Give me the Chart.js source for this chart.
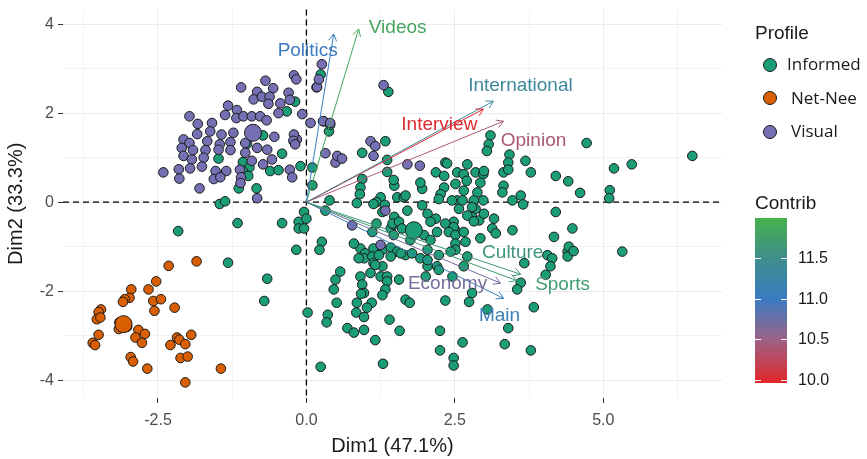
<!DOCTYPE html>
<html>
<head>
<meta charset="utf-8">
<script src="https://cdn.jsdelivr.net/npm/chart.js@4.4.1/dist/chart.umd.min.js"></script>
<style>
  html, body { margin: 0; padding: 0; background: #fff; }
  #wrap { position: relative; width: 867px; height: 459px; overflow: hidden; }
  #chart { position: absolute; left: 0; top: 0; }
  .lg-title { position: absolute; left: 755px; font: 19px "Liberation Sans", Arial, sans-serif; color: #1a1a1a; line-height: 22px; }
  .lg-key { position: absolute; width: 12px; height: 12px; border-radius: 50%; border: 1.5px solid #1a1a1a; }
  .lg-text { position: absolute; font: 17px "Open Sans", sans-serif; color: #1a1a1a; line-height: 20px; white-space: nowrap; }
  .bar-tick { position: absolute; height: 1px; width: 6px; background: #fff; }
  .bar-label { position: absolute; left: 798px; font: 16px "Liberation Sans", Arial, sans-serif; color: #1a1a1a; line-height: 18px; }
</style>
</head>
<body>
<div id="wrap">
  <canvas id="chart" width="867" height="459"></canvas>
  <div id="legend"></div>
</div>
<script>
// ---------------- DATA ----------------
const GROUPS = ['Informed', 'Net-Nee', 'Visual'];

const informedX = [
  -2.16,-1.16,-0.41,-1.32,-0.66,-0.71,-1.46,-1.37,-0.17,-0.13,
  -0.13,0.24,-0.19,-0.33,-0.73,-1.00,-1.48,-0.41,-1.07,-0.96,
  -1.07,-0.98,-0.61,-0.47,-0.10,0.10,0.10,-1.14,-0.84,0.38,
  0.40,0.39,1.38,1.33,0.94,1.36,1.36,0.94,0.91,0.90,
  1.48,0.85,1.25,1.18,1.32,1.28,1.53,1.64,1.70,1.95,
  2.04,2.18,1.48,1.18,1.11,1.42,1.47,-0.04,0.00,-0.04,
  0.26,0.22,2.34,2.18,2.32,2.32,2.26,2.51,2.54,2.57,
  2.48,2.43,2.34,2.54,1.98,1.75,2.20,2.09,0.91,0.99,
  1.13,1.28,1.42,1.53,1.67,2.23,2.54,2.65,2.70,2.65,
  2.85,2.98,2.93,2.88,2.98,2.45,2.63,2.82,2.85,2.79,
  2.71,2.91,2.99,3.32,3.32,3.30,3.47,3.61,3.65,3.78,
  4.20,4.41,3.16,3.13,3.19,3.47,2.93,4.20,4.17,2.48,
  2.40,2.51,2.65,2.51,2.68,2.71,2.65,2.46,2.51,2.43,
  3.67,4.06,4.14,4.11,4.03,3.61,4.40,4.42,1.45,1.56,
  1.61,1.47,0.80,0.97,1.11,1.22,1.13,1.28,1.42,1.59,
  1.78,1.92,2.04,2.20,2.23,0.57,0.49,0.46,0.91,0.94,
  0.97,1.08,1.25,1.36,1.56,0.51,0.36,0.34,0.02,0.24,
  0.88,0.92,0.85,0.84,0.97,1.10,1.02,0.69,0.80,0.97,
  1.16,1.36,1.33,1.28,1.67,1.74,1.40,1.57,1.16,1.29,
  2.01,2.23,2.34,2.25,2.25,2.48,2.48,2.79,2.74,4.40,
  3.55,3.83,3.05,3.40,3.34,3.78,2.63,5.32,3.10,3.07,
  3.04,4.72,6.50,5.18,5.48,5.11,5.10,3.42,3.40,3.40,
  3.69,4.61,2.71,2.99,2.79,2.82,4.48,2.37,1.47,1.95,
  1.92,1.67,2.09,2.04,2.04,4.50,0.32,1.13
];
const informedY = [
  -0.65,-0.47,-0.47,-1.36,-1.72,-2.22,-0.04,0.02,-1.07,-0.44,
  -0.59,2.87,2.26,2.04,1.50,1.31,0.98,1.09,0.90,0.78,
  0.70,0.59,0.70,0.72,0.81,0.78,0.38,0.31,0.31,1.59,
  1.74,0.04,2.48,1.37,1.11,0.95,0.68,0.52,0.33,0.18,
  0.37,-0.02,0.11,0.00,-0.06,-0.22,0.11,0.11,-0.19,-0.07,
  -0.26,-0.37,-0.33,-0.48,-0.67,-0.59,-0.50,-0.22,-0.37,-0.59,
  -0.89,-1.07,0.89,0.67,0.59,0.33,0.18,0.41,0.04,-0.15,
  -0.44,-0.59,-0.48,-0.67,-0.74,-0.85,-0.67,-0.85,-1.04,-1.15,
  -1.04,-1.07,-1.02,-1.11,-1.19,0.07,0.67,0.63,0.48,0.26,
  0.67,0.63,0.44,0.22,0.04,0.04,0.04,0.04,-0.15,-0.33,
  -0.30,-0.41,-0.26,0.67,0.37,0.22,0.04,0.15,-0.05,0.67,
  0.59,0.47,-0.37,-0.59,-0.70,-0.63,-0.81,-0.22,-0.78,-0.56,
  -0.67,-0.74,-0.67,-0.93,-0.89,-1.22,-1.44,-1.67,-1.07,-1.11,
  -1.37,-1.19,-1.26,-1.44,-1.63,-1.81,-1.11,-1.00,-0.48,-0.44,
  -0.59,-0.74,-0.93,-1.26,-1.22,-1.19,-1.37,-1.44,-1.22,-1.15,
  -1.15,-1.26,-1.44,-1.44,-1.19,-1.56,-1.74,-1.96,-1.67,-1.85,
  -2.04,-1.59,-1.67,-1.67,-1.74,-2.26,-2.53,-2.70,-2.48,-3.70,
  -1.26,-2.06,-2.26,-2.48,-2.58,-2.26,-2.37,-2.83,-2.93,-2.87,
  -1.41,-1.78,-1.96,-2.09,-2.19,-2.26,-2.64,-2.89,-3.10,-3.63,
  -1.67,-1.52,-2.21,-2.89,-3.33,-3.50,-3.67,-2.04,-2.24,-1.22,
  -1.96,-2.36,-2.41,-2.83,-3.19,-3.33,-3.15,-1.11,1.50,1.30,
  1.15,1.33,1.04,0.76,0.85,0.27,0.09,1.07,0.89,0.73,
  0.93,0.21,0.85,0.70,-0.11,-0.43,-0.59,0.87,0.50,0.30,
  0.44,0.15,-0.44,-1.07,-1.30,-1.10,-0.19,-0.04
];

const netNeeX = [
  -2.32,-1.85,-2.53,-2.66,-2.95,-2.98,-3.06,-3.09,-2.58,-2.45,
  -2.56,-2.22,-3.46,-3.50,-3.53,-3.47,-3.16,-2.83,-2.72,-2.88,
  -2.77,-3.50,-3.60,-3.56,-2.18,-2.14,-1.94,-2.04,-2.29,-2.96,
  -2.92,-2.68,-2.12,-2.00,-1.44,-2.04,-3.15,-3.02
];
const netNeeY = [
  -1.43,-1.33,-1.78,-1.96,-1.96,-2.15,-2.18,-2.24,-2.22,-2.18,
  -2.44,-2.37,-2.41,-2.47,-2.63,-2.59,-2.85,-2.87,-2.96,-3.04,
  -3.16,-2.98,-3.16,-3.21,-3.04,-3.09,-2.98,-3.19,-3.21,-3.48,
  -3.58,-3.74,-3.50,-3.47,-3.74,-4.05,-2.70,-2.80
];

const visualX = [
  -1.10,-0.69,-0.56,-0.83,-0.89,-0.75,-0.62,-0.64,-0.44,-0.30,
  -0.28,-0.21,-0.17,0.17,0.26,-1.32,-1.37,-1.17,-1.18,-1.06,
  -0.92,-0.78,-0.67,-0.47,-0.07,-1.97,-1.83,-1.59,-1.84,-1.62,
  -1.43,-1.23,-0.54,0.07,0.29,-2.07,-1.97,-1.67,-1.46,-1.28,
  -1.03,-0.16,-0.21,-2.10,-1.91,-1.70,-1.48,-1.28,-0.83,-0.66,
  -2.07,-1.93,-1.73,-1.03,-0.58,0.32,0.49,-2.15,-1.96,-1.76,
  -1.53,-1.35,-0.92,-0.73,-2.41,-2.14,-1.56,-1.45,-1.12,-1.10,
  -0.28,-0.24,-1.80,-1.11,-0.83,0.18,0.21,1.30,0.28,0.40,
  0.52,0.60,1.08,1.16,1.13,1.70,1.91,0.77,1.33,1.25,
  -0.22,-0.19
];
const visualY = [
  2.58,2.73,2.56,2.48,2.31,2.37,2.37,2.21,2.22,2.46,
  2.30,2.85,2.76,2.58,3.10,2.17,1.96,2.07,1.89,1.93,
  1.93,1.93,1.84,2.00,1.98,1.93,1.76,1.78,1.53,1.59,
  1.52,1.56,1.47,1.78,1.82,1.41,1.33,1.37,1.30,1.35,
  1.33,1.41,1.52,1.22,1.17,1.17,1.18,1.17,1.22,1.18,
  1.04,0.96,1.00,1.11,0.96,1.10,0.89,0.74,0.76,0.80,
  0.70,0.70,0.93,0.85,0.67,0.53,0.52,0.56,0.73,0.56,
  0.73,0.56,0.31,0.43,0.09,2.59,2.76,2.63,1.82,1.78,
  1.04,0.98,1.37,1.26,1.04,0.85,0.82,-0.52,-0.19,-0.96,
  1.38,1.30
];

// group mean points (Informed, Net-Nee, Visual)
const centroidX = [1.81, -3.08, -0.90];
const centroidY = [-0.63, -2.74, 1.56];

// variables (arrows)
const varNames = ['Politics', 'Videos', 'International', 'Interview', 'Opinion', 'Culture', 'Sports', 'Economy', 'Main'];
const varX = [0.46, 0.88, 3.15, 2.98, 3.32, 3.61, 3.54, 3.27, 3.32];
const varY = [3.78, 3.89, 2.27, 2.09, 1.82, -1.62, -1.76, -1.82, -2.16];
const varContrib = [11.0, 11.85, 11.35, 10.0, 10.4, 11.6, 11.7, 10.7, 11.1];

// axes
const xTicks = [-2.5, 0, 2.5, 5];
const yTicks = [-4, -2, 0, 2, 4];
const contribTicks = [10.0, 10.5, 11.0, 11.5];

// ---------------- STYLE ----------------
const GROUP_COLORS = ['#1b9e77', '#d95f02', '#7570b3'];
const CONTRIB_MIN = 9.96, CONTRIB_MAX = 12.0;
const GRAD_STOPS = [
  [9.96, '#e3262a'], [10.5, '#9b6386'], [11.0, '#3a7bc2'], [11.5, '#3f8e8c'], [12.0, '#47b14a']
];
// label offset from arrow tip, px
const LABEL_OFFSET = {
  Politics: [-26, 17], Videos: [39, -1], International: [27, -15], Interview: [-44, 16],
  Opinion: [30, 20], Culture: [-8, -22], Sports: [46, 4], Economy: [-53, 1], Main: [-4, 17]
};
const FONT = '"Liberation Sans", Arial, sans-serif';

function hexToRgb(h) {
  const n = parseInt(h.slice(1), 16);
  return [(n >> 16) & 255, (n >> 8) & 255, n & 255];
}
function contribColor(v) {
  for (let i = 0; i < GRAD_STOPS.length - 1; i++) {
    const [v0, c0] = GRAD_STOPS[i];
    const [v1, c1] = GRAD_STOPS[i + 1];
    if (v <= v1 || i === GRAD_STOPS.length - 2) {
      const t = Math.max(0, Math.min(1, (v - v0) / (v1 - v0)));
      const a = hexToRgb(c0), b = hexToRgb(c1);
      const m = a.map((c, k) => Math.round(c + (b[k] - c) * t));
      return `rgb(${m[0]},${m[1]},${m[2]})`;
    }
  }
}

const toPoints = (xs, ys) => xs.map((x, i) => ({ x, y: ys[i] }));
// major ticks plus the minor lines half way between them
const halfSteps = (ticks) => {
  const step = ticks[1] - ticks[0];
  const out = [];
  ticks.forEach(t => out.push(t - step / 2, t));
  out.push(ticks[ticks.length - 1] + step / 2);
  return out;
};

// ---------------- DATASETS ----------------
const pointSets = [
  [informedX, informedY], [netNeeX, netNeeY], [visualX, visualY]
].map(([xs, ys], g) => ({
  label: GROUPS[g],
  data: toPoints(xs, ys),
  backgroundColor: GROUP_COLORS[g],
  borderColor: '#1a1a1a',
  borderWidth: 1,
  pointRadius: 4.8,
  order: 3 - g
}));

const centroidSet = {
  label: 'centroids',
  data: toPoints(centroidX, centroidY),
  backgroundColor: GROUP_COLORS,
  borderColor: '#1a1a1a',
  borderWidth: 1,
  pointRadius: 8.5,
  order: 1
};

const arrowSets = varNames.map((name, i) => ({
  label: name,
  data: [{ x: 0, y: 0 }, { x: varX[i], y: varY[i] }],
  showLine: true,
  borderColor: contribColor(varContrib[i]),
  borderWidth: 1,
  pointRadius: 0,
  order: 0
}));

// ---------------- PLUGIN ----------------
const biplotLayer = {
  id: 'biplotLayer',
  beforeDatasetsDraw(chart) {
    const { ctx, chartArea: a, scales: { x, y } } = chart;
    const x0 = x.getPixelForValue(0), y0 = y.getPixelForValue(0);
    ctx.save();
    ctx.strokeStyle = '#000';
    ctx.lineWidth = 1.3;
    ctx.setLineDash([6, 4]);
    ctx.beginPath();
    ctx.moveTo(a.left, y0); ctx.lineTo(a.right, y0);
    ctx.moveTo(x0, a.top); ctx.lineTo(x0, a.bottom);
    ctx.stroke();
    ctx.restore();
  },
  afterDatasetsDraw(chart) {
    const { ctx, scales: { x, y } } = chart;
    const ox = x.getPixelForValue(0), oy = y.getPixelForValue(0);
    ctx.save();
    varNames.forEach((name, i) => {
      const px = x.getPixelForValue(varX[i]), py = y.getPixelForValue(varY[i]);
      const col = contribColor(varContrib[i]);
      const ang = Math.atan2(py - oy, px - ox);
      const len = 8, spread = Math.PI / 6;
      ctx.strokeStyle = col;
      ctx.lineWidth = 1;
      ctx.beginPath();
      ctx.moveTo(px - len * Math.cos(ang - spread), py - len * Math.sin(ang - spread));
      ctx.lineTo(px, py);
      ctx.lineTo(px - len * Math.cos(ang + spread), py - len * Math.sin(ang + spread));
      ctx.stroke();

      const [dx, dy] = LABEL_OFFSET[name];
      ctx.fillStyle = col;
      ctx.font = `19px ${FONT}`;
      ctx.textAlign = 'center';
      ctx.textBaseline = 'middle';
      ctx.fillText(name, px + dx, py + dy);
    });
    ctx.restore();
  }
};

// ---------------- CHART ----------------
const gridOpts = (major) => ({
  color: '#ebebeb',
  lineWidth: c => major.includes(c.tick.value) ? 1 : 0.6,
  tickColor: c => major.includes(c.tick.value) ? '#333333' : 'rgba(0,0,0,0)',
  tickLength: 5,
  tickWidth: 1
});
// fixed box sizes, no label overflow padding (keeps the panel where the picture has it)
const fixBox = (prop, size) => s => {
  s[prop] = size;
  s.paddingTop = 0; s.paddingBottom = 0; s.paddingLeft = 0; s.paddingRight = 0;
};

new Chart(document.getElementById('chart'), {
  type: 'scatter',
  data: { datasets: [...arrowSets, centroidSet, ...pointSets] },
  options: {
    responsive: false,
    animation: false,
    events: [],
    layout: { padding: { left: 0, right: 145, top: 3, bottom: 0 } },
    plugins: { legend: { display: false }, tooltip: { enabled: false } },
    scales: {
      x: {
        type: 'linear',
        min: -4.1,
        max: 7.0,
        afterBuildTicks: s => { s.ticks = halfSteps(xTicks).filter(v => v >= s.min && v <= s.max).map(v => ({ value: v })); },
        afterFit: fixBox('height', 61),
        ticks: {
          autoSkip: false,
          maxRotation: 0,
          padding: 8,
          color: '#4d4d4d',
          font: { family: FONT, size: 16 },
          callback: v => xTicks.includes(v) ? v.toFixed(1) : ''
        },
        grid: gridOpts(xTicks),
        border: { display: false },
        title: { display: true, text: 'Dim1 (47.1%)', color: '#1a1a1a', font: { family: FONT, size: 20 }, padding: { top: 0, bottom: 1 } }
      },
      y: {
        type: 'linear',
        min: -4.4,
        max: 4.33,
        afterBuildTicks: s => { s.ticks = halfSteps(yTicks).filter(v => v >= s.min && v <= s.max).map(v => ({ value: v })); },
        afterFit: fixBox('width', 63),
        ticks: {
          autoSkip: false,
          padding: 4,
          color: '#4d4d4d',
          font: { family: FONT, size: 16 },
          callback: v => yTicks.includes(v) ? String(v) : ''
        },
        grid: gridOpts(yTicks),
        border: { display: false },
        title: { display: true, text: 'Dim2 (33.3%)', color: '#1a1a1a', font: { family: FONT, size: 20 }, padding: { top: 4, bottom: 0 } }
      }
    }
  },
  plugins: [biplotLayer]
});

// ---------------- LEGEND ----------------
const legend = document.getElementById('legend');
const add = (cls, css, text) => {
  const el = document.createElement('div');
  el.className = cls;
  Object.assign(el.style, css);
  if (text) el.textContent = text;
  legend.appendChild(el);
  return el;
};

add('lg-title', { top: '22px' }, 'Profile');
GROUPS.forEach((g, i) => {
  const cy = 65 + i * 33.5;
  add('lg-key', { left: '763px', top: `${cy - 7.5}px`, background: GROUP_COLORS[i] });
  add('lg-text', { left: i === 0 ? '787px' : '791px', top: `${cy - 11}px` }, g);
});

add('lg-title', { top: '192px' }, 'Contrib');
const barTop = 218, barBottom = 383;
const valToY = v => barBottom - (v - CONTRIB_MIN) / (CONTRIB_MAX - CONTRIB_MIN) * (barBottom - barTop);
const stops = GRAD_STOPS.map(([v, c]) => `${c} ${((v - CONTRIB_MIN) / (CONTRIB_MAX - CONTRIB_MIN) * 100).toFixed(1)}%`);
add('', { position: 'absolute', left: '755px', top: `${barTop}px`, width: '32px', height: `${barBottom - barTop}px`, background: `linear-gradient(to top, ${stops.join(', ')})` });
contribTicks.forEach(v => {
  const ty = valToY(v);
  add('bar-tick', { left: '755px', top: `${ty}px` });
  add('bar-tick', { left: '781px', top: `${ty}px` });
  add('bar-label', { top: `${ty - 9}px` }, v.toFixed(1));
});
</script>
</body>
</html>
